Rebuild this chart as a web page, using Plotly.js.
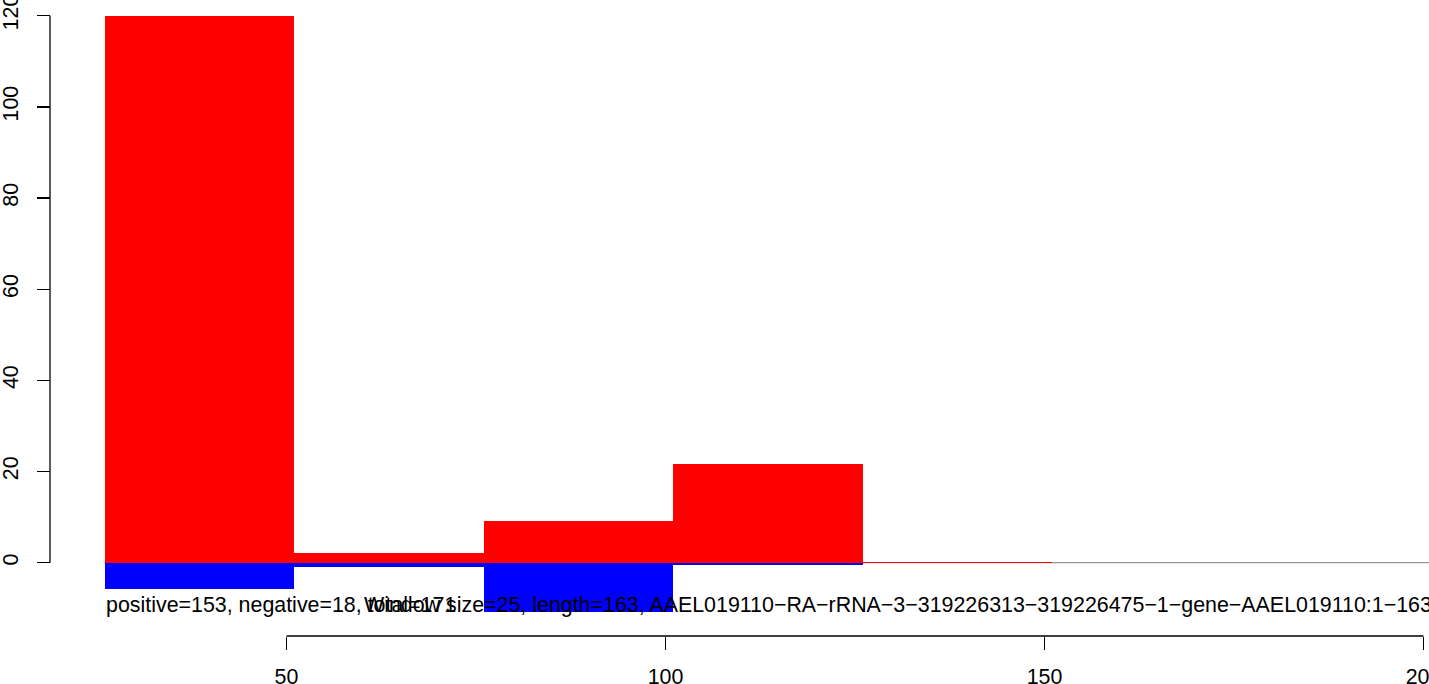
<!DOCTYPE html>
<html>
<head>
<meta charset="utf-8">
<script src="https://cdn.plot.ly/plotly-3.0.1.min.js"></script>
<style>html,body{margin:0;padding:0;background:#fff;}#chart{width:1429px;height:684px;}</style>
</head>
<body>
<div id="chart"></div>
<script>
// Window start positions (window size = 25)
const windowStarts = [26, 51, 76, 101, 126];
const windowSize = 25;
// Positive-strand counts per window (red, up)
const positiveValues = [120, 2.1, 9.1, 21.6, 0.2];
// Negative-strand counts per window (blue, down)
const negativeValues = [5.8, 0.9, 10.9, 0.4, 0];
const xTickVals = [50, 100, 150, 200];
const yTickVals = [0, 20, 40, 60, 80, 100, 120];
const summaryText = "positive=153, negative=18, total=171";
const titleText = "Window size=25, length=163, AAEL019110\u2212RA\u2212rRNA\u22123\u2212319226313\u2212319226475\u22121\u2212gene\u2212AAEL019110:1\u2212163";

const centers = windowStarts.map(s => s + windowSize / 2);
const FONT = "Liberation Sans, Arial, Helvetica, sans-serif";
const FS = 21.4;

const traces = [
  {
    type: "bar", x: centers, y: positiveValues, width: windowSize,
    marker: {color: "#FF0000", line: {width: 0}}, hoverinfo: "skip", showlegend: false
  },
  {
    type: "bar", x: centers, y: negativeValues.map(v => -v), width: windowSize,
    marker: {color: "#0000FF", line: {width: 0}}, hoverinfo: "skip", showlegend: false
  }
];

const xAxisPos = 1 - 636 / 684;
const yAxisPos = 50 / 1429;

const layout = {
  width: 1429, height: 684,
  margin: {l: 0, r: 0, t: 0, b: 0, pad: 0},
  paper_bgcolor: "#ffffff", plot_bgcolor: "#ffffff",
  barmode: "overlay", bargap: 0,
  font: {family: FONT, size: FS, color: "#000"},
  xaxis: {
    range: [12.2, 200.73], anchor: "free", position: xAxisPos,
    showgrid: false, zeroline: false, showline: false,
    ticks: "outside", ticklen: 13, tickwidth: 1.3, tickcolor: "#000",
    tickmode: "array", tickvals: xTickVals, ticktext: xTickVals.map(String),
    tickfont: {family: FONT, size: FS, color: "#000"}, ticklabelstandoff: 8,
    ticklabeloverflow: "allow"
  },
  yaxis: {
    range: [-26.61, 123.44], anchor: "free", position: yAxisPos,
    showgrid: false, zeroline: false, showline: false,
    ticks: "outside", ticklen: 13, tickwidth: 1.3, tickcolor: "#000",
    tickmode: "array", tickvals: yTickVals, ticktext: yTickVals.map(String),
    tickangle: -90,
    tickfont: {family: FONT, size: FS, color: "#000"}, ticklabelstandoff: 10,
    ticklabeloverflow: "allow"
  },
  shapes: [
    {type: "line", layer: "below", xref: "x", yref: "y", x0: windowStarts[0], x1: 201, y0: 0, y1: 0,
     line: {color: "#7f7f7f", width: 1}},
    {type: "line", xref: "x", yref: "paper", x0: xTickVals[0], x1: xTickVals[xTickVals.length - 1],
     y0: xAxisPos, y1: xAxisPos, line: {color: "#000", width: 1.3}},
    {type: "line", xref: "paper", yref: "y", x0: yAxisPos, x1: yAxisPos,
     y0: yTickVals[0], y1: yTickVals[yTickVals.length - 1], line: {color: "#000", width: 1.3}}
  ],
  annotations: [
    {xref: "x", yref: "y", x: windowStarts[0], y: -9.3, xanchor: "left", yanchor: "middle",
     text: summaryText, showarrow: false, borderpad: 0, font: {family: FONT, size: FS, color: "#000"}},
    {xref: "x", yref: "y", x: 60.1, y: -9.3, xanchor: "left", yanchor: "middle",
     text: titleText, showarrow: false, borderpad: 0, font: {family: FONT, size: FS, color: "#000"}}
  ]
};

Plotly.newPlot("chart", traces, layout, {staticPlot: true, displayModeBar: false});
</script>
</body>
</html>
